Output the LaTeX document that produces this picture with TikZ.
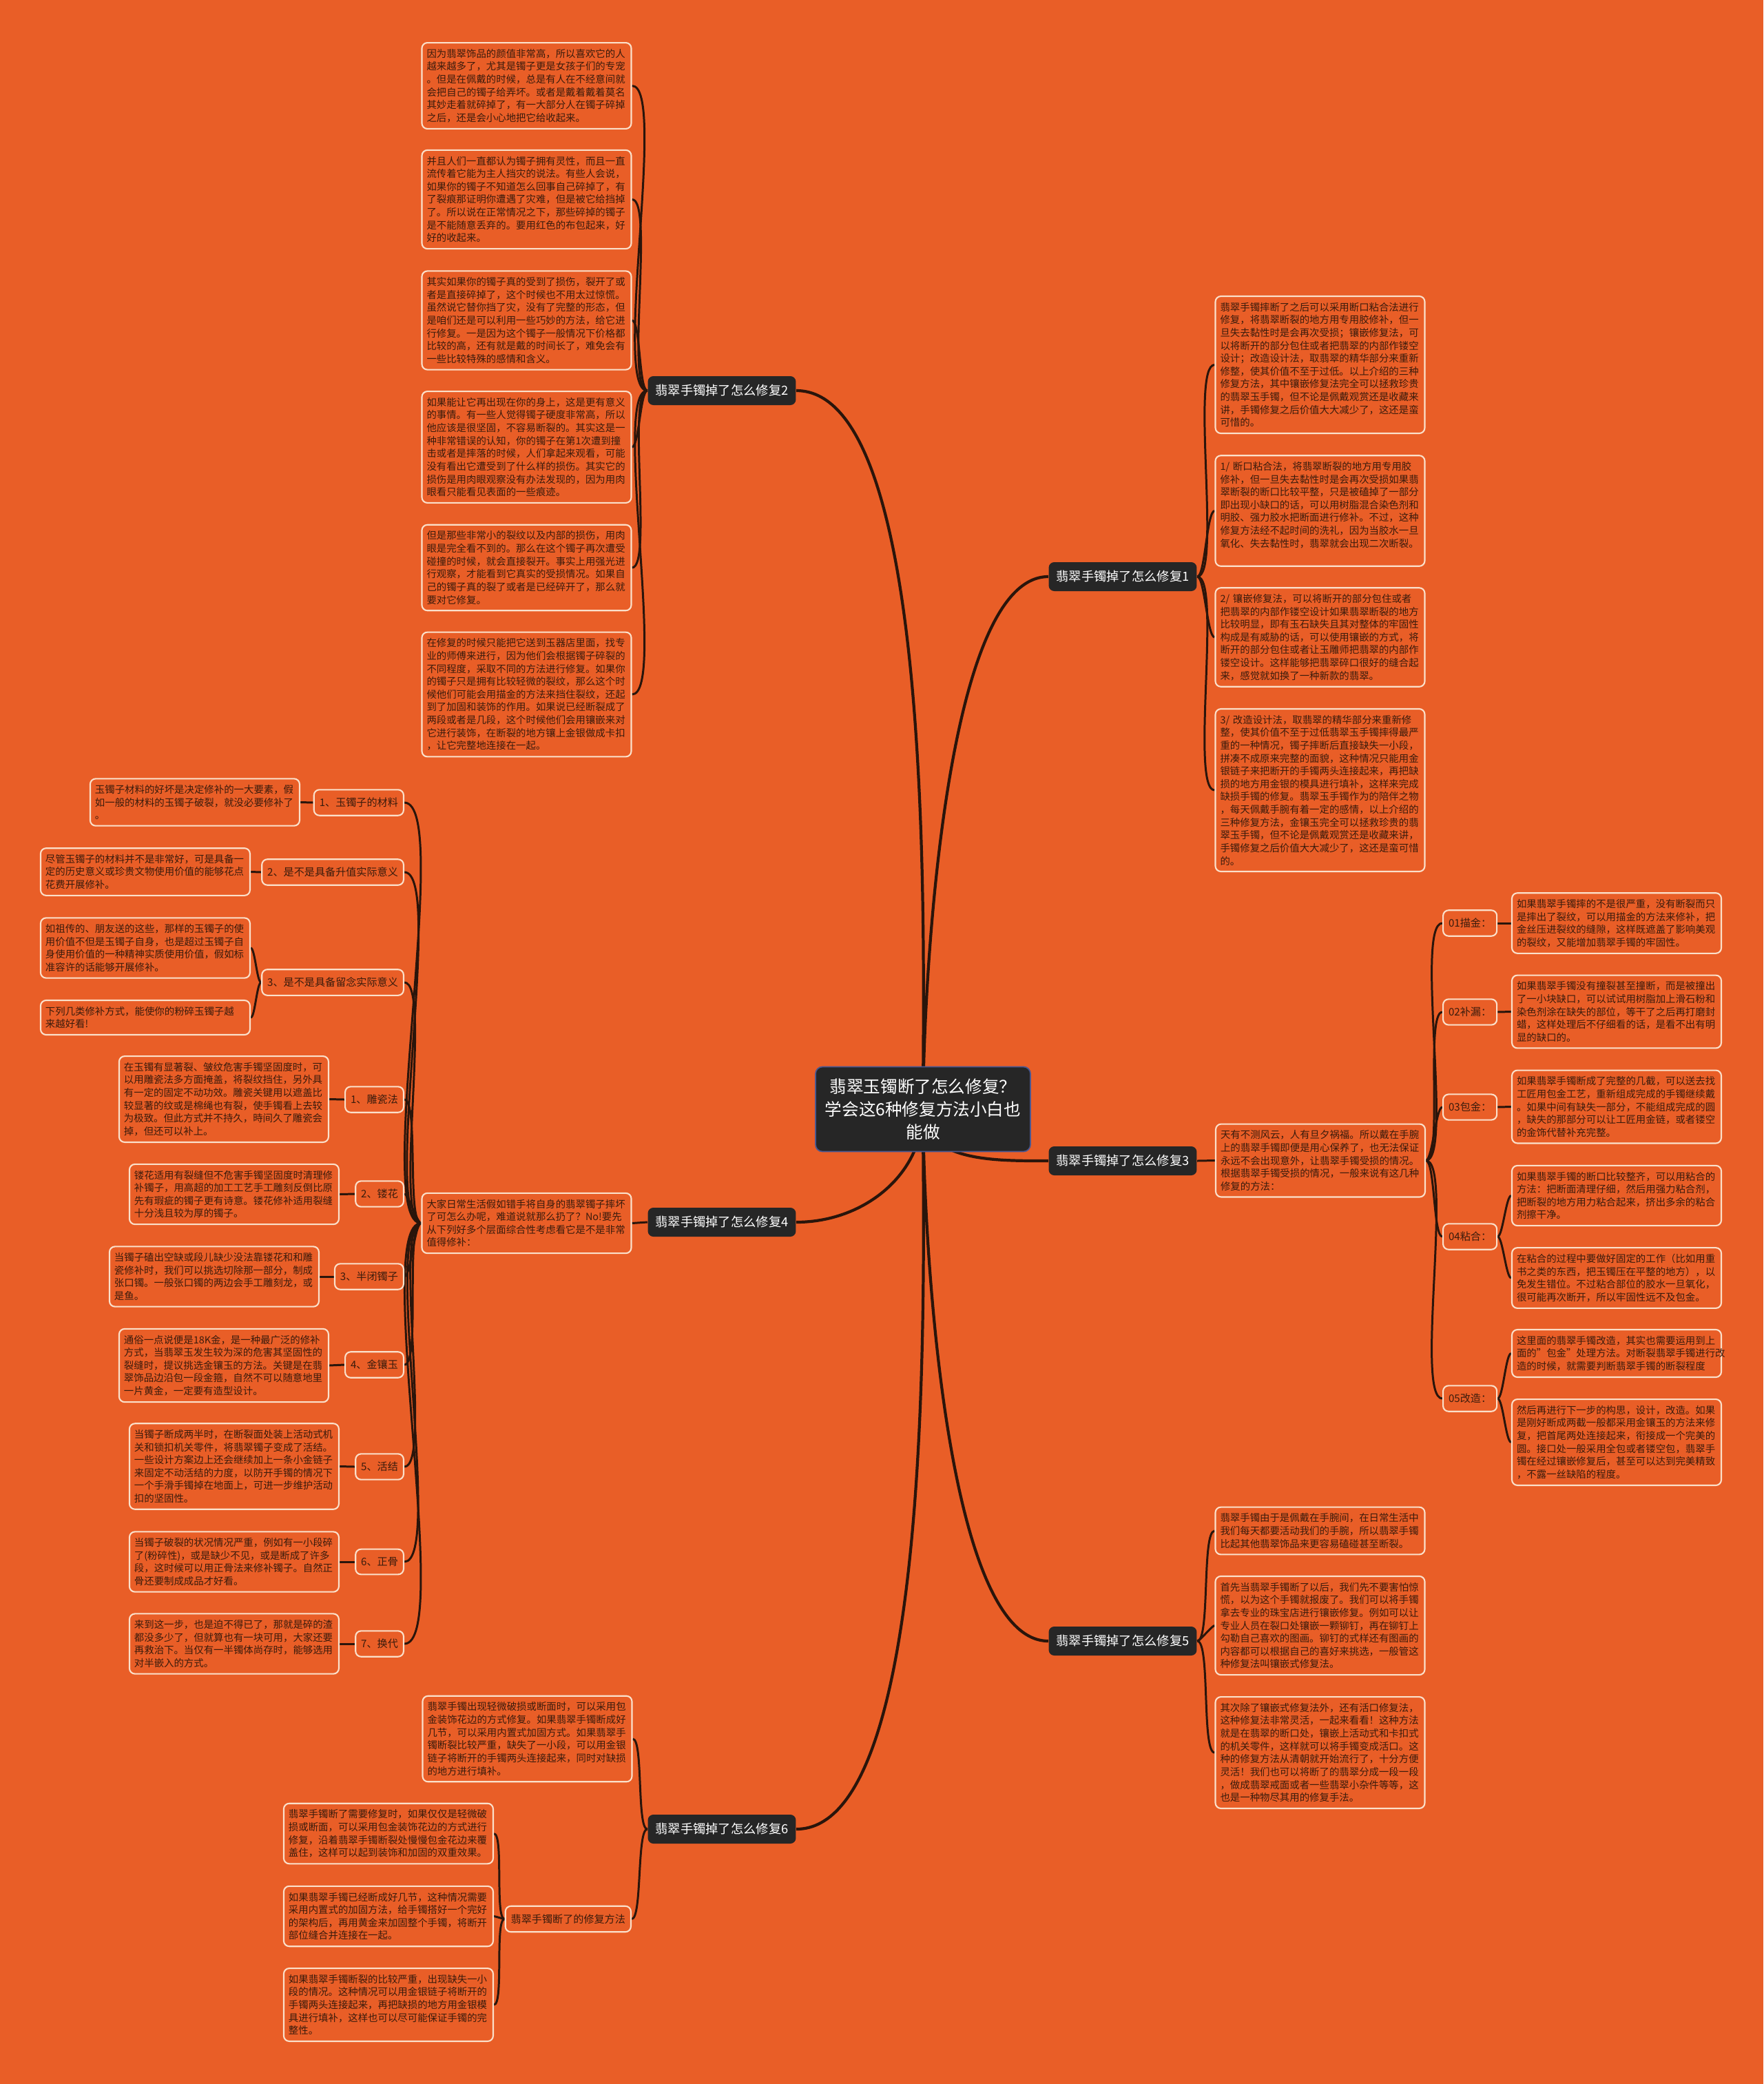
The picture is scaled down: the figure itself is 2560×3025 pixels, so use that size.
\documentclass[tikz,border=0pt]{standalone}
\usepackage{fontspec}
\setmainfont{Noto Sans CJK SC}
\usetikzlibrary{backgrounds}
\definecolor{sfondo}{HTML}{E95E27}
\definecolor{bordo}{HTML}{FBE0CA}
\definecolor{testo}{HTML}{3A1B0C}
\definecolor{linee}{HTML}{2A150B}
\definecolor{scuro}{HTML}{262626}
\definecolor{bluastro}{HTML}{4A5790}

\begin{document}
\begin{tikzpicture}[x=0.1mm, y=-0.1mm]
	% Definizione degli stili per tutti i nodi della mappa
	\tikzset{
		radice/.style={fill=scuro, draw=bluastro, line width=0.5pt, rounded corners=1mm, text=white, text width=28.6mm, align=center, minimum height=12.3mm, inner xsep=1.3mm, font=\fontsize{7}{9.4}\selectfont},
		capitolo/.style={fill=scuro, rounded corners=0.8mm, text=white, inner xsep=1.1mm, minimum height=4.2mm, font=\fontsize{5.2}{6.2}\selectfont},
		voce/.style={draw=bordo, line width=0.6pt, fill=sfondo, rounded corners=0.8mm, text=testo, inner xsep=0.8mm, minimum height=3.3mm, font=\fontsize{4.3}{5.2}\selectfont},
		foglia/.style={draw=bordo, line width=0.6pt, fill=sfondo, rounded corners=0.8mm, text=testo, text width=29mm, align=left, inner xsep=0.7mm, inner ysep=0.9mm, font=\fontsize{4.1}{5.3}\selectfont},
		tronco/.style={draw=linee, line width=1.2pt},
		linea/.style={draw=linee, line width=0.85pt},
		versosx/.style={out=180, in=0, looseness=0.3},
		versodx/.style={out=0, in=180, looseness=0.3}
	}
	\useasboundingbox (0,0) rectangle (2560,3025);

	% Nodo centrale e rami principali
	\node[radice] (root) at (1340,1610) {翡翠玉镯断了怎么修复？\\学会这6种修复方法小白也\\能做};
	\node[capitolo] (c1) at (1630,837) {翡翠手镯掉了怎么修复1};
	\node[capitolo] (c2) at (1048,567) {翡翠手镯掉了怎么修复2};
	\node[capitolo] (c3) at (1630,1685) {翡翠手镯掉了怎么修复3};
	\node[capitolo] (c4) at (1048,1774) {翡翠手镯掉了怎么修复4};
	\node[capitolo] (c5) at (1630,2382) {翡翠手镯掉了怎么修复5};
	\node[capitolo] (c6) at (1048,2655) {翡翠手镯掉了怎么修复6};

	% Ramo 2
	\node[foglia] (l2a) at (764.5,124.5) {因为翡翠饰品的颜值非常高，所以喜欢它的人\\越来越多了，尤其是镯子更是女孩子们的专宠\\。但是在佩戴的时候，总是有人在不经意间就\\会把自己的镯子给弄坏。或者是戴着戴着莫名\\其妙走着就碎掉了，有一大部分人在镯子碎掉\\之后，还是会小心地把它给收起来。};
	\node[foglia] (l2b) at (764.5,289.5) {并且人们一直都认为镯子拥有灵性，而且一直\\流传着它能为主人挡灾的说法。有些人会说，\\如果你的镯子不知道怎么回事自己碎掉了，有\\了裂痕那证明你遭遇了灾难，但是被它给挡掉\\了。所以说在正常情况之下，那些碎掉的镯子\\是不能随意丢弃的。要用红色的布包起来，好\\好的收起来。};
	\node[foglia] (l2c) at (764.5,465) {其实如果你的镯子真的受到了损伤，裂开了或\\者是直接碎掉了，这个时候也不用太过惊慌。\\虽然说它替你挡了灾，没有了完整的形态，但\\是咱们还是可以利用一些巧妙的方法，给它进\\行修复。一是因为这个镯子一般情况下价格都\\比较的高，还有就是戴的时间长了，难免会有\\一些比较特殊的感情和含义。};
	\node[foglia] (l2d) at (764.5,649) {如果能让它再出现在你的身上，这是更有意义\\的事情。有一些人觉得镯子硬度非常高，所以\\他应该是很坚固，不容易断裂的。其实这是一\\种非常错误的认知，你的镯子在第1次遭到撞\\击或者是摔落的时候，人们拿起来观看，可能\\没有看出它遭受到了什么样的损伤。其实它的\\损伤是用肉眼观察没有办法发现的，因为用肉\\眼看只能看见表面的一些痕迹。};
	\node[foglia] (l2e) at (764.5,824) {但是那些非常小的裂纹以及内部的损伤，用肉\\眼是完全看不到的。那么在这个镯子再次遭受\\碰撞的时候，就会直接裂开。事实上用强光进\\行观察，才能看到它真实的受损情况。如果自\\己的镯子真的裂了或者是已经碎开了，那么就\\要对它修复。};
	\node[foglia] (l2f) at (764.5,1008) {在修复的时候只能把它送到玉器店里面，找专\\业的师傅来进行，因为他们会根据镯子碎裂的\\不同程度，采取不同的方法进行修复。如果你\\的镯子只是拥有比较轻微的裂纹，那么这个时\\候他们可能会用描金的方法来挡住裂纹，还起\\到了加固和装饰的作用。如果说已经断裂成了\\两段或者是几段，这个时候他们会用镶嵌来对\\它进行装饰，在断裂的地方镶上金银做成卡扣\\，让它完整地连接在一起。};

	% Ramo 1
	\node[foglia] (l1a) at (1916.5,529.5) {翡翠手镯摔断了之后可以采用断口粘合法进行\\修复，将翡翠断裂的地方用专用胶修补，但一\\旦失去黏性时是会再次受损；镶嵌修复法，可\\以将断开的部分包住或者把翡翠的内部作镂空\\设计；改造设计法，取翡翠的精华部分来重新\\修整，使其价值不至于过低。以上介绍的三种\\修复方法，其中镶嵌修复法完全可以拯救珍贵\\的翡翠玉手镯，但不论是佩戴观赏还是收藏来\\讲，手镯修复之后价值大大减少了，这还是蛮\\可惜的。};
	\node[foglia] (l1b) at (1916.5,741.5) {1/~断口粘合法，将翡翠断裂的地方用专用胶\\修补，但一旦失去黏性时是会再次受损如果翡\\翠断裂的断口比较平整，只是被磕掉了一部分\\即出现小缺口的话，可以用树脂混合染色剂和\\明胶、强力胶水把断面进行修补。不过，这种\\修复方法经不起时间的洗礼，因为当胶水一旦\\氧化、失去黏性时，翡翠就会出现二次断裂。\\ \mbox{}};
	\node[foglia] (l1c) at (1916.5,925) {2/~镶嵌修复法，可以将断开的部分包住或者\\把翡翠的内部作镂空设计如果翡翠断裂的地方\\比较明显，即有玉石缺失且其对整体的牢固性\\构成是有威胁的话，可以使用镶嵌的方式，将\\断开的部分包住或者让玉雕师把翡翠的内部作\\镂空设计。这样能够把翡翠碎口很好的缝合起\\来，感觉就如换了一种新款的翡翠。};
	\node[foglia] (l1d) at (1916.5,1147) {3/~改造设计法，取翡翠的精华部分来重新修\\整，使其价值不至于过低翡翠玉手镯摔得最严\\重的一种情况，镯子摔断后直接缺失一小段，\\拼凑不成原来完整的面貌，这种情况只能用金\\银链子来把断开的手镯两头连接起来，再把缺\\损的地方用金银的模具进行填补，这样来完成\\缺损手镯的修复。翡翠玉手镯作为的陪伴之物\\，每天佩戴手腕有着一定的感情，以上介绍的\\三种修复方法，金镶玉完全可以拯救珍贵的翡\\翠玉手镯，但不论是佩戴观赏还是收藏来讲，\\手镯修复之后价值大大减少了，这还是蛮可惜\\的。};

	% Ramo 3
	\node[foglia] (l3) at (1917,1684.5) {天有不测风云，人有旦夕祸福。所以戴在手腕\\上的翡翠手镯即便是用心保养了，也无法保证\\永远不会出现意外，让翡翠手镯受损的情况。\\根据翡翠手镯受损的情况，一般来说有这几种\\修复的方法：};
	\node[voce, anchor=west] (v31) at (2094,1340) {01描金：};
	\node[voce, anchor=west] (v32) at (2094,1469) {02补漏：};
	\node[voce, anchor=west] (v33) at (2094,1607) {03包金：};
	\node[voce, anchor=west] (v34) at (2094,1795) {04粘合：};
	\node[voce, anchor=west] (v35) at (2094,2030) {05改造：};
	\node[foglia] (l31) at (2347,1340) {如果翡翠手镯摔的不是很严重，没有断裂而只\\是摔出了裂纹，可以用描金的方法来修补，把\\金丝压进裂纹的缝隙，这样既遮盖了影响美观\\的裂纹，又能增加翡翠手镯的牢固性。};
	\node[foglia] (l32) at (2347,1468.5) {如果翡翠手镯没有撞裂甚至撞断，而是被撞出\\了一小块缺口，可以试试用树脂加上滑石粉和\\染色剂涂在缺失的部位，等干了之后再打磨封\\蜡，这样处理后不仔细看的话，是看不出有明\\显的缺口的。};
	\node[foglia] (l33) at (2347,1606.5) {如果翡翠手镯断成了完整的几截，可以送去找\\工匠用包金工艺，重新组成完成的手镯继续戴\\。如果中间有缺失一部分，不能组成完成的圆\\，缺失的那部分可以让工匠用金链，或者镂空\\的金饰代替补充完整。};
	\node[foglia] (l34a) at (2347,1735.5) {如果翡翠手镯的断口比较整齐，可以用粘合的\\方法：把断面清理仔细，然后用强力粘合剂，\\把断裂的地方用力粘合起来，挤出多余的粘合\\剂擦干净。};
	\node[foglia] (l34b) at (2347,1855) {在粘合的过程中要做好固定的工作（比如用重\\书之类的东西，把玉镯压在平整的地方），以\\免发生错位。不过粘合部位的胶水一旦氧化，\\很可能再次断开，所以牢固性远不及包金。};
	\node[foglia] (l35a) at (2347,1964.5) {这里面的翡翠手镯改造，其实也需要运用到上\\面的"包金"处理方法。对断裂翡翠手镯进行改\\造的时候，就需要判断翡翠手镯的断裂程度};
	\node[foglia] (l35b) at (2347,2093.5) {然后再进行下一步的构思，设计，改造。如果\\是刚好断成两截一般都采用金镶玉的方法来修\\复，把首尾两处连接起来，衔接成一个完美的\\圆。接口处一般采用全包或者镂空包，翡翠手\\镯在经过镶嵌修复后，甚至可以达到完美精致\\，不露一丝缺陷的程度。};

	% Ramo 5
	\node[foglia] (l5a) at (1916.5,2222) {翡翠手镯由于是佩戴在手腕间，在日常生活中\\我们每天都要活动我们的手腕，所以翡翠手镯\\比起其他翡翠饰品来更容易磕碰甚至断裂。};
	\node[foglia] (l5b) at (1916.5,2359.5) {首先当翡翠手镯断了以后，我们先不要害怕惊\\慌，以为这个手镯就报废了。我们可以将手镯\\拿去专业的珠宝店进行镶嵌修复。例如可以让\\专业人员在裂口处镶嵌一颗铆钉，再在铆钉上\\勾勒自己喜欢的图画。铆钉的式样还有图画的\\内容都可以根据自己的喜好来挑选，一般管这\\种修复法叫镶嵌式修复法。};
	\node[foglia] (l5c) at (1916.5,2544) {其次除了镶嵌式修复法外，还有活口修复法，\\这种修复法非常灵活，一起来看看！这种方法\\就是在翡翠的断口处，镶嵌上活动式和卡扣式\\的机关零件，这样就可以将手镯变成活口。这\\种的修复方法从清朝就开始流行了，十分方便\\灵活！我们也可以将断了的翡翠分成一段一段\\，做成翡翠戒面或者一些翡翠小杂件等等，这\\也是一种物尽其用的修复手法。};

	% Ramo 4
	\node[foglia] (l4) at (764.5,1775.5) {大家日常生活假如错手将自身的翡翠镯子摔坏\\了可怎么办呢，难道说就那么扔了？No!要先\\从下列好多个层面综合性考虑看它是不是非常\\值得修补：};
	\node[voce, anchor=east] (v41) at (587,1165) {1、玉镯子的材料};
	\node[voce, anchor=east] (v42) at (587,1266) {2、是不是具备升值实际意义};
	\node[voce, anchor=east] (v43) at (587,1426) {3、是不是具备留念实际意义};
	\node[voce, anchor=east] (v44) at (587,1596) {1、雕瓷法};
	\node[voce, anchor=east] (v45) at (587,1733) {2、镂花};
	\node[voce, anchor=east] (v46) at (587,1853) {3、半闭镯子};
	\node[voce, anchor=east] (v47) at (587,1981) {4、金镶玉};
	\node[voce, anchor=east] (v48) at (587,2129) {5、活结};
	\node[voce, anchor=east] (v49) at (587,2267) {6、正骨};
	\node[voce, anchor=east] (v410) at (587,2386) {7、换代};
	\node[foglia, anchor=east] (l41) at (436,1164.5) {玉镯子材料的好坏是决定修补的一大要素，假\\如一般的材料的玉镯子破裂，就没必要修补了\\。};
	\node[foglia, anchor=east] (l42) at (364,1265.5) {尽管玉镯子的材料并不是非常好，可是具备一\\定的历史意义或珍贵文物使用价值的能够花点\\花费开展修补。};
	\node[foglia, anchor=east] (l43a) at (364,1376) {如祖传的、朋友送的这些，那样的玉镯子的使\\用价值不但是玉镯子自身，也是超过玉镯子自\\身使用价值的一种精神实质使用价值，假如标\\准容许的话能够开展修补。};
	\node[foglia, anchor=east] (l43b) at (364,1477) {下列几类修补方式，能使你的粉碎玉镯子越\\来越好看!};
	\node[foglia, anchor=east] (l44) at (478,1595.5) {在玉镯有显著裂、皱纹危害手镯坚固度时，可\\以用雕瓷法多方面掩盖，将裂纹挡住，另外具\\有一定的固定不动功效。雕瓷关键用以遮盖比\\较显著的纹或是棉绳也有裂，使手镯看上去较\\为极致。但此方式并不持久，時间久了雕瓷会\\掉，但还可以补上。};
	\node[foglia, anchor=east] (l45) at (493,1733.5) {镂花适用有裂缝但不危害手镯坚固度时清理修\\补镯子，用高超的加工工艺手工雕刻反倒比原\\先有瑕疵的镯子更有诗意。镂花修补适用裂缝\\十分浅且较为厚的镯子。};
	\node[foglia, anchor=east] (l46) at (464,1853) {当镯子磕出空缺或段儿缺少没法靠镂花和和雕\\瓷修补时，我们可以挑选切除那一部分，制成\\张口镯。一般张口镯的两边会手工雕刻龙，或\\是鱼。};
	\node[foglia, anchor=east] (l47) at (478,1982) {通俗一点说便是18K金，是一种最广泛的修补\\方式，当翡翠玉发生较为深的危害其坚固性的\\裂缝时，提议挑选金镶玉的方法。关键是在翡\\翠饰品边沿包一段金箍，自然不可以随意地里\\一片黄金，一定要有造型设计。};
	\node[foglia, anchor=east] (l48) at (493,2128.5) {当镯子断成两半时，在断裂面处装上活动式机\\关和锁扣机关零件，将翡翠镯子变成了活结。\\一些设计方案边上还会继续加上一条小金链子\\来固定不动活结的力度，以防开手镯的情况下\\一个手滑手镯掉在地面上，可进一步维护活动\\扣的坚固性。};
	\node[foglia, anchor=east] (l49) at (493,2267) {当镯子破裂的状况情况严重，例如有一小段碎\\了(粉碎性)，或是缺少不见，或是断成了许多\\段，这时候可以用正骨法来修补镯子。自然正\\骨还要制成成品才好看。};
	\node[foglia, anchor=east] (l410) at (493,2386) {来到这一步，也是迫不得已了，那就是碎的渣\\都没多少了，但就算也有一块可用，大家还要\\再救治下。当仅有一半镯体尚存时，能够选用\\对半嵌入的方式。};

	% Ramo 6
	\node[foglia] (l6) at (765.5,2524) {翡翠手镯出现轻微破损或断面时，可以采用包\\金装饰花边的方式修复。如果翡翠手镯断成好\\几节，可以采用内置式加固方式。如果翡翠手\\镯断裂比较严重，缺失了一小段，可以用金银\\链子将断开的手镯两头连接起来，同时对缺损\\的地方进行填补。};
	\node[voce, anchor=east] (v6) at (917,2785.5) {翡翠手镯断了的修复方法};
	\node[foglia, anchor=east] (l6a) at (717,2661.5) {翡翠手镯断了需要修复时，如果仅仅是轻微破\\损或断面，可以采用包金装饰花边的方式进行\\修复，沿着翡翠手镯断裂处慢慢包金花边来覆\\盖住，这样可以起到装饰和加固的双重效果。};
	\node[foglia, anchor=east] (l6b) at (717,2781.5) {如果翡翠手镯已经断成好几节，这种情况需要\\采用内置式的加固方法，给手镯搭好一个完好\\的架构后，再用黄金来加固整个手镯，将断开\\部位缝合并连接在一起。};
	\node[foglia, anchor=east] (l6c) at (717,2910) {如果翡翠手镯断裂的比较严重，出现缺失一小\\段的情况。这种情况可以用金银链子将断开的\\手镯两头连接起来，再把缺损的地方用金银模\\具进行填补，这样也可以尽可能保证手镯的完\\整性。};

	% Collegamenti, disegnati sotto i nodi
	\begin{scope}[on background layer]
		\fill[sfondo] (0,0) rectangle (2560,3025);

		\draw[tronco] (root.center) to[out=90, in=180, looseness=0.5] (c1.west);
		\draw[tronco] (root.center) to[out=90, in=0, looseness=0.5] (c2.east);
		\draw[tronco] (root.center) to[out=-90, in=180, looseness=1] (c3.west);
		\draw[tronco] (root.center) to[out=-90, in=0, looseness=1] (c4.east);
		\draw[tronco] (root.center) to[out=-90, in=180, looseness=0.5] (c5.west);
		\draw[tronco] (root.center) to[out=-90, in=0, looseness=0.5] (c6.east);

		\draw[linea] (c2.west) to[versosx] (l2a.east);
		\draw[linea] (c2.west) to[versosx] (l2b.east);
		\draw[linea] (c2.west) to[versosx] (l2c.east);
		\draw[linea] (c2.west) to[versosx] (l2d.east);
		\draw[linea] (c2.west) to[versosx] (l2e.east);
		\draw[linea] (c2.west) to[versosx] (l2f.east);

		\draw[linea] (c1.east) to[versodx] (l1a.west);
		\draw[linea] (c1.east) to[versodx] (l1b.west);
		\draw[linea] (c1.east) to[versodx] (l1c.west);
		\draw[linea] (c1.east) to[versodx] (l1d.west);

		\draw[linea] (c3.east) -- (l3.west);
		\draw[linea] (l3.east) to[versodx] (v31.west);
		\draw[linea] (l3.east) to[versodx] (v32.west);
		\draw[linea] (l3.east) to[versodx] (v33.west);
		\draw[linea] (l3.east) to[versodx] (v34.west);
		\draw[linea] (l3.east) to[versodx] (v35.west);
		\draw[linea] (v31.east) -- (l31.west);
		\draw[linea] (v32.east) -- (l32.west);
		\draw[linea] (v33.east) -- (l33.west);
		\draw[linea] (v34.east) to[versodx] (l34a.west);
		\draw[linea] (v34.east) to[versodx] (l34b.west);
		\draw[linea] (v35.east) to[versodx] (l35a.west);
		\draw[linea] (v35.east) to[versodx] (l35b.west);

		\draw[linea] (c5.east) to[versodx] (l5a.west);
		\draw[linea] (c5.east) to[versodx] (l5b.west);
		\draw[linea] (c5.east) to[versodx] (l5c.west);

		\draw[linea] (c4.west) -- (l4.east);
		\draw[linea] (l4.west) to[versosx] (v41.east);
		\draw[linea] (l4.west) to[versosx] (v42.east);
		\draw[linea] (l4.west) to[versosx] (v43.east);
		\draw[linea] (l4.west) to[versosx] (v44.east);
		\draw[linea] (l4.west) to[versosx] (v45.east);
		\draw[linea] (l4.west) to[versosx] (v46.east);
		\draw[linea] (l4.west) to[versosx] (v47.east);
		\draw[linea] (l4.west) to[versosx] (v48.east);
		\draw[linea] (l4.west) to[versosx] (v49.east);
		\draw[linea] (l4.west) to[versosx] (v410.east);
		\draw[linea] (v41.west) -- (l41.east);
		\draw[linea] (v42.west) -- (l42.east);
		\draw[linea] (v43.west) to[versosx] (l43a.east);
		\draw[linea] (v43.west) to[versosx] (l43b.east);
		\draw[linea] (v44.west) -- (l44.east);
		\draw[linea] (v45.west) -- (l45.east);
		\draw[linea] (v46.west) -- (l46.east);
		\draw[linea] (v47.west) -- (l47.east);
		\draw[linea] (v48.west) -- (l48.east);
		\draw[linea] (v49.west) -- (l49.east);
		\draw[linea] (v410.west) -- (l410.east);

		\draw[linea] (c6.west) to[versosx] (l6.east);
		\draw[linea] (c6.west) to[versosx] (v6.east);
		\draw[linea] (v6.west) to[versosx] (l6a.east);
		\draw[linea] (v6.west) to[versosx] (l6b.east);
		\draw[linea] (v6.west) to[versosx] (l6c.east);
	\end{scope}
\end{tikzpicture}
\end{document}
